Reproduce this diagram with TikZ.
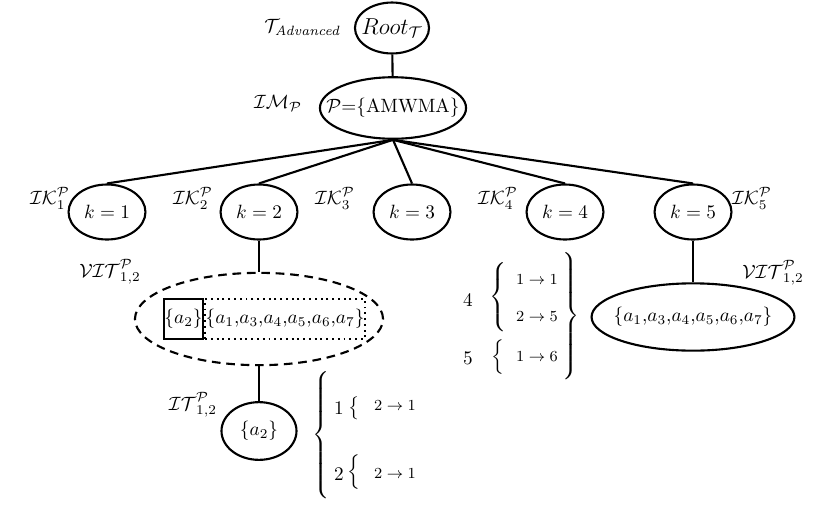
\documentclass[tikz,border=0pt]{standalone}
\usepackage{amsmath}
\usepackage{amssymb}
\usepackage{tikz}
\usetikzlibrary{shapes, calc, positioning}
\tikzstyle{treenode}=[draw,ellipse,line width=1.1pt,inner sep=-8pt]
\tikzstyle{setbox}=[draw,rectangle,inner sep=0.3pt,minimum height=20.8pt]
\tikzstyle{edge}=[line width=1.1pt]
\tikzstyle{tag}=[inner sep=0pt]
\newcommand{\lcurl}[1]{$\left\{\vcenter{\hrule height #1 width 0pt}\right.$}
\newcommand{\rcurl}[1]{$\left.\vcenter{\hrule height #1 width 0pt}\right\}$}
\newcommand{\restset}{$\{a_1{,}a_3{,}a_4{,}a_5{,}a_6{,}a_7\}$}

\begin{document}
\begin{tikzpicture}[x=0.52pt,y=-0.52pt]
    \useasboundingbox (0,0) rectangle (830,506);

    \node (root)[treenode,minimum width=38.5pt,minimum height=26.5pt] at (392, 28) {\large $Root_{\mathcal{T}}$};
    \node[tag] (troot) at (303, 27) {$\mathcal{T}_{\mathit{Advanced}}$};

    \node (pm)[treenode,minimum width=76pt,minimum height=32pt] at (393, 108) {$\mathcal{P}$=\{AMWMA\}};
    \node[tag] (imp) at (278, 103) {$\mathcal{IM}_{\mathcal{P}}$};

    \node (k1)[treenode,minimum width=40pt,minimum height=28.6pt] at (107, 212) {$k=1$};
    \node (k2)[treenode,minimum width=40pt,minimum height=28.6pt] at (259, 212) {$k=2$};
    \node (k3)[treenode,minimum width=40pt,minimum height=28.6pt] at (412, 212) {$k=3$};
    \node (k4)[treenode,minimum width=40pt,minimum height=28.6pt] at (565, 212) {$k=4$};
    \node (k5)[treenode,minimum width=40pt,minimum height=28.6pt] at (693, 212) {$k=5$};
    \node[tag] (ik1) at (50, 198) {$\mathcal{IK}_1^{\mathcal{P}}$};
    \node[tag] (ik2) at (193, 198) {$\mathcal{IK}_2^{\mathcal{P}}$};
    \node[tag] (ik3) at (335, 198) {$\mathcal{IK}_3^{\mathcal{P}}$};
    \node[tag] (ik4) at (498, 198) {$\mathcal{IK}_4^{\mathcal{P}}$};
    \node[tag] (ik5) at (752, 198) {$\mathcal{IK}_5^{\mathcal{P}}$};

    % left branch
    \node (vit)[treenode,dashed,dash pattern=on 4.5pt off 3pt,minimum width=129pt,minimum height=48pt] at (259, 319) {};
    \node (sel)[setbox,line width=1.1pt,minimum width=20.3pt] at (183.5, 319) {$\{a_2\}$};
    \node (rest)[setbox,dotted,line width=1pt,right=0pt of sel] {\restset};
    \node[tag] (vitl) at (110, 272) {$\mathcal{VIT}_{1,2}^{\mathcal{P}}$};

    \node (it)[treenode,minimum width=39pt,minimum height=30pt] at (259, 431) {$\{a_2\}$};
    \node[tag] (itl) at (193, 405) {$\mathcal{IT}_{1,2}^{\mathcal{P}}$};

    \node[tag] (bigl) at (322, 435) {\lcurl{67pt}};
    \node[tag] (r1) at (339, 408) {$1$};
    \node[tag] (b1) at (355, 408) {\lcurl{13pt}};
    \node[tag] (m1) at (395, 406) {\footnotesize $2\to 1$};
    \node[tag] (r2) at (339, 474) {$2$};
    \node[tag] (b2) at (355, 472) {\lcurl{16pt}};
    \node[tag] (m2) at (395, 474) {\footnotesize $2\to 1$};

    % right branch
    \node (vitr)[treenode,minimum width=105.5pt,minimum height=35pt] at (693, 317) {\restset};
    \node[tag] (vitrl) at (773, 273) {$\mathcal{VIT}_{1,2}^{\mathcal{P}}$};

    \node[tag] (r4) at (468, 300) {$4$};
    \node[tag] (b4) at (499, 297) {\lcurl{35pt}};
    \node[tag] (m41) at (537, 280) {\footnotesize $1\to 1$};
    \node[tag] (m42) at (537, 317) {\footnotesize $2\to 5$};
    \node[tag] (r5) at (468, 358) {$5$};
    \node[tag] (b5) at (499, 357) {\lcurl{17pt}};
    \node[tag] (m51) at (537, 357) {\footnotesize $1\to 6$};
    \node[tag] (bigr) at (570, 316) {\rcurl{69pt}};

    \draw[edge] (root) -- (pm);
    \draw[edge] (pm.south) -- (k1.north);
    \draw[edge] (pm.south) -- (k2.north);
    \draw[edge] (pm.south) -- (k3.north);
    \draw[edge] (pm.south) -- (k4.north);
    \draw[edge] (pm.south) -- (k5.north);
    \draw[edge] (k2) -- (vit);
    \draw[edge] (vit) -- (it);
    \draw[edge] (k5) -- (vitr);

\end{tikzpicture}
\end{document}
